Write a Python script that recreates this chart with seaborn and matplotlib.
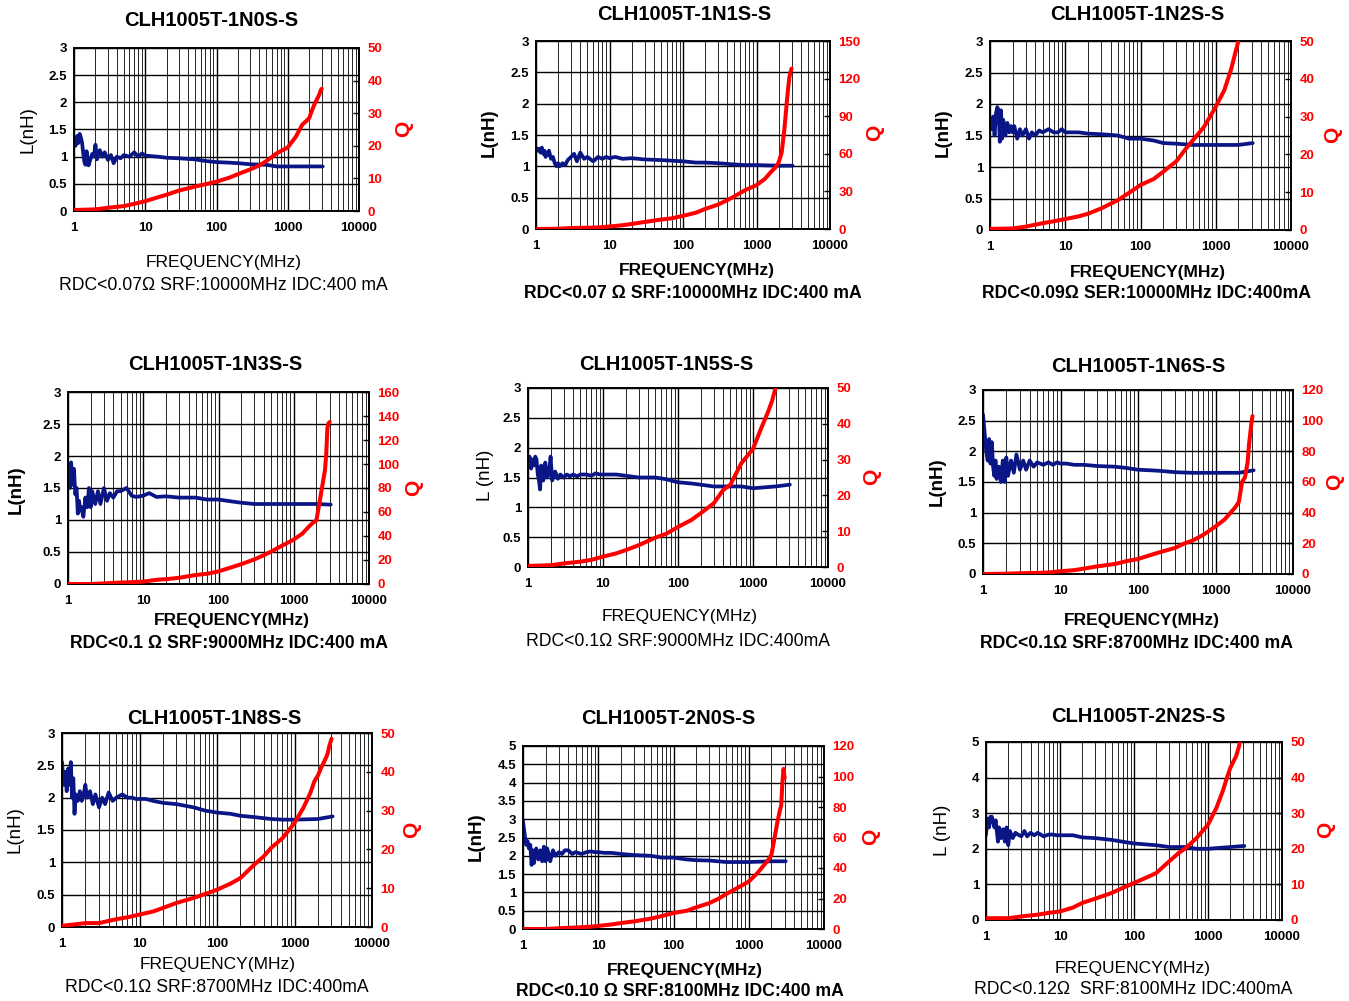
import numpy as np
import pandas as pd
import matplotlib
matplotlib.use("Agg")
import matplotlib.pyplot as plt
import seaborn as sns
from matplotlib.ticker import LogLocator, NullFormatter

nan = np.nan

# frequency grids (MHz) shared by all panels
freq_L = [1, 1.05, 1.1, 1.15, 1.2, 1.25, 1.3, 1.35, 1.4, 1.45,
          1.5, 1.6, 1.7, 1.8, 1.9, 2.0, 2.1, 2.3, 2.5, 2.7,
          3.0, 3.3, 3.6, 4, 4.5, 5, 6, 7, 8, 9,
          10, 12, 15, 20, 30, 50, 70, 100, 150, 200,
          300, 500, 700, 1000, 2000, 3100]
freq_Q = [1, 2, 3, 5, 7, 10, 15, 20, 30, 50, 70, 100, 150, 200, 300,
          400, 500, 700, 1000, 1300, 1600, 1800, 2000, 2200, 2400,
          2600, 2700, 2800, 2900, 3000]

# inductance L (nH)
L_1N0S = [1.35, 1.2, 1.38, 1.25, 1.42, 1.35, 1.25, 1.05, 0.9, 0.85,
          1.1, 0.84, 0.95, 1.05, 1.0, 1.22, 0.95, 1.12, 1.0, 1.08,
          0.94, 1.03, 0.88, 1.0, 0.97, 1.03, 1.0, 1.08, 1.0, 1.06,
          1.02, 1.01, 1.0, 0.98, 0.97, 0.95, 0.92, 0.9, 0.89, 0.88,
          0.86, 0.85, 0.82, 0.82, 0.82, 0.82]
L_1N1S = [1.3, 1.25, 1.28, 1.22, 1.3, 1.2, 1.25, 1.15, 1.22, 1.18,
          1.25, 1.12, 1.15, 1.05, 1.0, 1.05, 1.0, 1.05, 1.02, 1.1,
          1.15, 1.2, 1.08, 1.22, 1.12, 1.15, 1.08, 1.15, 1.12, 1.15,
          1.13, 1.15, 1.12, 1.13, 1.11, 1.1, 1.09, 1.08, 1.06, 1.06,
          1.05, 1.03, 1.02, 1.02, 1.01, 1.01]
L_1N2S = [1.75, 1.6, 1.8, 1.5, 1.85, 1.95, 1.9, 1.4, 1.9, 1.45,
          1.75, 1.5, 1.7, 1.55, 1.65, 1.55, 1.65, 1.45, 1.6, 1.5,
          1.6, 1.45, 1.55, 1.5, 1.58, 1.55, 1.6, 1.55, 1.55, 1.6,
          1.55, 1.55, 1.55, 1.53, 1.52, 1.5, 1.45, 1.45, 1.42, 1.38,
          1.37, 1.35, 1.35, 1.35, 1.35, 1.38]
L_1N3S = [1.85, 1.5, 1.9, 1.55, 1.8, 1.4, 1.5, 1.1, 1.3, 1.15,
          1.2, 1.05, 1.35, 1.2, 1.5, 1.2, 1.45, 1.25, 1.45, 1.25,
          1.5, 1.3, 1.42, 1.35, 1.45, 1.45, 1.5, 1.38, 1.36, 1.37,
          1.38, 1.42, 1.36, 1.37, 1.35, 1.35, 1.32, 1.32, 1.29, 1.27,
          1.25, 1.25, 1.25, 1.25, 1.25, 1.24]
L_1N5S = [1.75, 1.85, 1.65, 1.8, 1.7, 1.85, 1.8, 1.55, 1.45, 1.3,
          1.7, 1.45, 1.75, 1.5, 1.55, 1.85, 1.45, 1.6, 1.48, 1.55,
          1.5, 1.55, 1.52, 1.55, 1.52, 1.55, 1.55, 1.53, 1.57, 1.55,
          1.55, 1.55, 1.55, 1.53, 1.5, 1.5, 1.47, 1.42, 1.4, 1.38,
          1.35, 1.35, 1.35, 1.32, 1.35, 1.38]
L_1N6S = [2.6, 2.3, 2.0, 1.85, 2.2, 1.8, 2.15, 1.75, 1.6, 1.85,
          1.55, 1.75, 1.5, 1.85, 1.5, 1.9, 1.6, 1.85, 1.65, 1.95,
          1.7, 1.85, 1.7, 1.85, 1.75, 1.82, 1.78, 1.82, 1.78, 1.82,
          1.8, 1.8, 1.78, 1.78, 1.76, 1.75, 1.73, 1.7, 1.69, 1.68,
          1.66, 1.65, 1.65, 1.65, 1.65, 1.69]
L_1N8S = [2.55, 2.2, 2.4, 2.1, 2.45, 2.2, 2.55, 2.0, 2.3, 1.75,
          2.05, 1.95, 2.1, 1.95, 2.05, 2.2, 2.0, 2.1, 1.9, 2.05,
          1.85, 2.0, 1.9, 2.08, 1.95, 2.0, 2.05, 2.0, 2.0, 1.98,
          1.98, 1.98, 1.95, 1.92, 1.9, 1.85, 1.8, 1.77, 1.75, 1.72,
          1.7, 1.67, 1.66, 1.66, 1.67, 1.71]
L_2N0S = [2.95, 2.6, 2.3, 2.4, 2.2, 2.3, 1.75, 2.15, 1.8, 2.1,
          2.2, 1.9, 2.15, 1.85, 2.25, 1.85, 2.2, 1.85, 2.15, 2.0,
          2.1, 2.05, 2.15, 2.15, 2.05, 2.1, 2.05, 2.1, 2.12, 2.1,
          2.1, 2.08, 2.08, 2.05, 2.02, 2.0, 1.95, 1.95, 1.9, 1.88,
          1.87, 1.83, 1.83, 1.83, 1.85, 1.85]
L_2N2S = [2.4, 2.85, 2.6, 2.9, 2.9, 2.75, 2.6, 2.8, 2.5, 2.2,
          2.6, 2.3, 2.55, 2.2, 2.6, 2.1, 2.5, 2.3, 2.45, 2.4,
          2.35, 2.5, 2.35, 2.45, 2.38, 2.45, 2.35, 2.4, 2.4, 2.38,
          2.38, 2.38, 2.38, 2.32, 2.3, 2.25, 2.2, 2.15, 2.12, 2.1,
          2.05, 2.05, 2.0, 2.0, 2.05, 2.08]

# quality factor Q
Q_1N0S = [0.3, 0.5, 1.0, 1.5, 2.2, 3.0, 4.2, 5.0, 6.3, 7.5, 8.2, 9.0, 10.2, 11.3, 12.8,
          14.0, 15.3, 17.7, 19.5, 22.8, 26.5, 27.5, 28.5, 31, 33, 34.5, 35.2, 36, 37, 37.5]
Q_1N1S = [0, 0.2, 0.8, 1.0, 1.2, 2.0, 3, 4, 5.6, 7.5, 8.5, 10.5, 13, 16, 19.5,
          23, 26, 31, 35, 40, 46, 49, 53, 61, 80, 103, 113, 121, 125, 128]
Q_1N2S = [0.3, 0.4, 0.9, 1.8, 2.3, 2.9, 3.6, 4.3, 5.7, 7.9, 9.8, 11.9, 13.5, 15.4, 18.2,
          21.5, 23.8, 27.3, 32.6, 37, 42.5, 46.5, 50, nan, nan, nan, nan, nan, nan, nan]
Q_1N3S = [0, 0, 0.5, 1.2, 1.5, 2, 3.5, 4, 5.2, 7.5, 8.5, 10.5, 14, 16.5, 20.5,
          24, 27, 32, 37, 42, 48, 51, 53, 68, 82, 95, 108, 130, 134, 135]
Q_1N5S = [0.3, 0.5, 1.0, 1.5, 2.0, 2.9, 3.8, 4.7, 6.1, 8.2, 9.3, 11.2, 13.1, 15, 17.8,
          21.5, 23, 29, 33, 39, 43.5, 46.5, 50, nan, nan, nan, nan, nan, nan, nan]
Q_1N6S = [0, 0.2, 0.5, 0.7, 1.0, 1.8, 2.5, 3.5, 5, 6.5, 8.3, 9.8, 12.6, 14.5, 17,
          20, 21.7, 25.6, 31, 35.4, 40.5, 43.5, 47, 60, 63, 73, 84, 91, 98, 103]
Q_1N8S = [0.3, 1.0, 1.0, 2.0, 2.5, 3.2, 4.0, 4.9, 6.2, 7.5, 8.5, 9.6, 11.2, 12.6, 16,
          18.2, 20.4, 22.9, 26.8, 30.7, 34.5, 37.5, 39, 41, 42.5, 44, 45, 46.5, 47.5, 48.5]
Q_2N0S = [0, 0, 0.5, 1.0, 1.3, 2, 3, 3.9, 5, 6.8, 8.5, 10.5, 12, 14.2, 17,
          20, 22.9, 26.8, 31.1, 36.6, 42, 45, 48.6, 59.5, 70, 78, 81, 96, 105, 99]
Q_2N2S = [0.5, 0.5, 1.0, 1.5, 2.0, 2.4, 3.5, 4.8, 6.0, 7.6, 9, 10.4, 12, 13.2, 16.5,
          18.8, 20.2, 23, 26.8, 31.5, 36.5, 39.9, 42.7, 44.5, 46, 48.5, 50, nan, nan, nan]

titles = ["CLH1005T-1N0S-S", "CLH1005T-1N1S-S", "CLH1005T-1N2S-S",
          "CLH1005T-1N3S-S", "CLH1005T-1N5S-S", "CLH1005T-1N6S-S",
          "CLH1005T-1N8S-S", "CLH1005T-2N0S-S", "CLH1005T-2N2S-S"]
notes = ["RDC<0.07Ω SRF:10000MHz IDC:400 mA",
         "RDC<0.07 Ω SRF:10000MHz IDC:400 mA",
         "RDC<0.09Ω SER:10000MHz IDC:400mA",
         "RDC<0.1 Ω SRF:9000MHz IDC:400 mA",
         "RDC<0.1Ω SRF:9000MHz IDC:400mA",
         "RDC<0.1Ω SRF:8700MHz IDC:400 mA",
         "RDC<0.1Ω SRF:8700MHz IDC:400mA",
         "RDC<0.10 Ω SRF:8100MHz IDC:400 mA",
         "RDC<0.12Ω  SRF:8100MHz IDC:400mA"]
l_labels = ["L(nH)", "L(nH)", "L(nH)", "L(nH)", "L (nH)", "L(nH)", "L(nH)", "L(nH)", "L (nH)"]
bold_text = [False, True, True, True, False, True, False, True, False]
L_series = [L_1N0S, L_1N1S, L_1N2S, L_1N3S, L_1N5S, L_1N6S, L_1N8S, L_2N0S, L_2N2S]
Q_series = [Q_1N0S, Q_1N1S, Q_1N2S, Q_1N3S, Q_1N5S, Q_1N6S, Q_1N8S, Q_2N0S, Q_2N2S]
l_axis = [(3, 0.5)] * 7 + [(5, 0.5), (5, 1)]
q_axis = [(50, 10), (150, 30), (50, 10), (160, 20), (50, 10),
          (120, 20), (50, 10), (120, 20), (50, 10)]

# layout in pixels: axes box (left, right, top, bottom) and text centres
boxes = [(74, 359, 48, 211), (536, 830, 41, 229), (990, 1291, 41, 230),
         (68, 369, 392, 584), (528, 828, 388, 567), (983, 1293, 390, 574),
         (62, 372, 733, 927), (523, 824, 746, 929), (986, 1282, 742, 920)]
title_xy = [(211, 20), (684, 15), (1137, 14), (215, 365), (666, 364),
            (1138, 367), (214, 718), (668, 719), (1138, 717)]
llab_xy = [(28, 130), (489, 133), (943, 133), (16, 490), (485, 475),
           (937, 482), (15, 830), (476, 837), (943, 830)]
qlab_xy = [(404, 129), (875, 133), (1333, 135), (414, 488), (872, 477),
           (1335, 482), (412, 830), (871, 837), (1326, 830)]
xlab_xy = [(224, 262), (697, 270), (1148, 272), (232, 621), (680, 616),
           (1142, 620), (218, 965), (685, 971), (1133, 968)]
note_xy = [(223, 285), (693, 293), (1147, 293), (229, 644), (678, 641),
           (1137, 643), (217, 988), (680, 992), (1133, 990)]

NAVY = "#0a1685"
RED = "#ff0000"
W, H = 1349, 1001

sns.set_style("white")
plt.rcParams["font.family"] = ["Liberation Sans", "DejaVu Sans"]
plt.rcParams["text.color"] = "black"
plt.rcParams["xtick.color"] = "black"
plt.rcParams["ytick.color"] = "black"

fig = plt.figure(figsize=(W / 100, H / 100), dpi=100)


def px_text(xy, s, **kw):
    fig.text(xy[0] / W, 1 - xy[1] / H, s, ha="center", va="center", **kw)


for i in range(9):
    left, right, top, bottom = boxes[i]
    ax = fig.add_axes([left / W, 1 - bottom / H, (right - left) / W, (bottom - top) / H])
    ax.set_xscale("log")

    dfL = pd.DataFrame({"f": freq_L, "L": L_series[i]})
    dfQ = pd.DataFrame({"f": freq_Q, "Q": Q_series[i]}).dropna()

    sns.lineplot(data=dfL, x="f", y="L", ax=ax, color=NAVY, linewidth=2.7,
                 estimator=None, sort=False)
    ax.set_xlim(1, 10000)
    lmax, lstep = l_axis[i]
    ax.set_ylim(0, lmax)
    yt = np.arange(0, lmax + 1e-9, lstep)
    ax.set_yticks(yt, ["%g" % v for v in yt], fontsize=9.5, fontweight="bold")
    ax.set_xticks([1, 10, 100, 1000, 10000], ["1", "10", "100", "1000", "10000"],
                  fontsize=9.5, fontweight="bold")
    ax.xaxis.set_minor_locator(LogLocator(base=10, subs=np.arange(2, 10), numticks=20))
    ax.xaxis.set_minor_formatter(NullFormatter())
    ax.grid(which="major", color="black", linewidth=1.0)
    ax.grid(which="minor", axis="x", color="0.15", linewidth=0.7)
    ax.tick_params(which="both", length=0)
    ax.tick_params(axis="x", pad=8)
    ax.tick_params(axis="y", pad=5)
    ax.set_xlabel("")
    ax.set_ylabel("")
    for s in ax.spines.values():
        s.set_color("black")
        s.set_linewidth(1.4)

    ax2 = ax.twinx()
    sns.lineplot(data=dfQ, x="f", y="Q", ax=ax2, color=RED, linewidth=2.9,
                 estimator=None, sort=False)
    qmax, qstep = q_axis[i]
    ax2.set_ylim(0, qmax)
    qt = np.arange(0, qmax + 1e-9, qstep)
    ax2.set_yticks(qt, ["%g" % v for v in qt], fontsize=9.5, fontweight="bold", color=RED)
    ax2.tick_params(axis="y", direction="in", length=4, width=1, color="black", pad=6)
    ax2.grid(False)
    ax2.set_xlabel("")
    ax2.set_ylabel("")
    for s in ax2.spines.values():
        s.set_visible(False)

    wt = "bold" if bold_text[i] else "normal"
    px_text(title_xy[i], titles[i], fontsize=14.5, fontweight="bold")
    px_text(llab_xy[i], l_labels[i], fontsize=13.5, fontweight=wt, rotation=90)
    px_text(qlab_xy[i], "Q", fontsize=15, fontweight="bold", color=RED, rotation=90)
    px_text(xlab_xy[i], "FREQUENCY(MHz)", fontsize=12.5, fontweight=wt)
    px_text(note_xy[i], notes[i], fontsize=12.7, fontweight=wt)

fig.savefig("out.png", dpi=100)
